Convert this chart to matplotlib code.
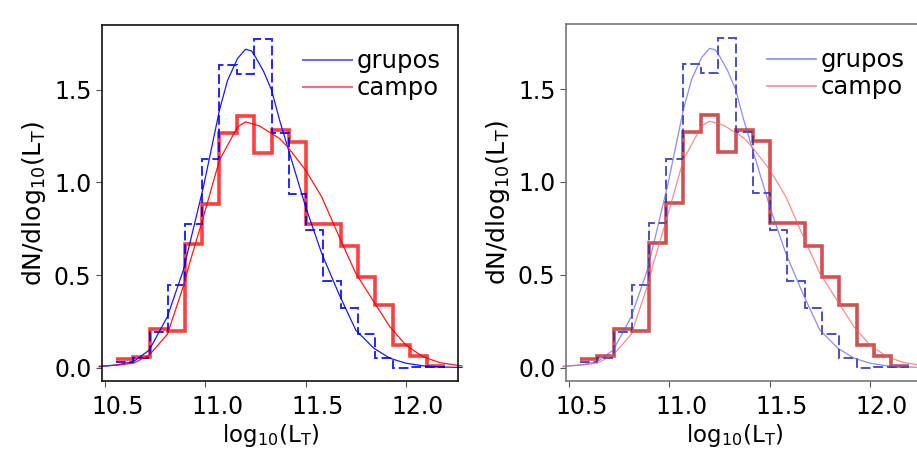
import numpy as np
import matplotlib.pyplot as plt
import matplotlib.transforms as mtransforms

# bordes de los bines en log10(L_T)
edges = [10.552, 10.638, 10.725, 10.811, 10.898, 10.984, 11.070, 11.157, 11.243, 11.330,
         11.416, 11.502, 11.589, 11.675, 11.762, 11.848, 11.934, 12.021, 12.107, 12.193]

# histogramas normalizados
grupos_hist = [0.03, 0.05, 0.19, 0.446, 0.777, 1.125, 1.632, 1.584, 1.775, 1.269,
               0.940, 0.743, 0.469, 0.32, 0.18, 0.05, 0.0, 0.005, 0.005]
campo_hist = [0.045, 0.06, 0.21, 0.198, 0.67, 0.886, 1.266, 1.359, 1.161, 1.282,
              1.221, 0.778, 0.778, 0.656, 0.489, 0.336, 0.12, 0.061, 0.011]

# curvas de ajuste
grupos_fit_x = [10.47, 10.56, 10.64, 10.72, 10.81, 10.89, 10.99, 11.07, 11.11, 11.16,
                11.20, 11.23, 11.25, 11.29, 11.33, 11.37, 11.41, 11.50, 11.58, 11.665,
                11.75, 11.84, 11.92, 12.00, 12.085, 12.17, 12.28]
grupos_fit_y = [0.005, 0.015, 0.032, 0.095, 0.275, 0.527, 0.976, 1.39, 1.55, 1.669,
                1.719, 1.71, 1.677, 1.60, 1.498, 1.336, 1.192, 0.868, 0.617, 0.40,
                0.203, 0.105, 0.051, 0.024, 0.01, 0.004, 0.001]
campo_fit_x = [10.47, 10.56, 10.64, 10.72, 10.81, 10.89, 10.92, 10.99, 11.07, 11.16,
               11.20, 11.27, 11.37, 11.41, 11.50, 11.58, 11.67, 11.75, 11.84, 11.92,
               12.00, 12.085, 12.17, 12.28]
campo_fit_y = [0.008, 0.014, 0.024, 0.068, 0.18, 0.44, 0.56, 0.815, 1.12, 1.30,
               1.327, 1.305, 1.237, 1.192, 1.066, 0.922, 0.70, 0.509, 0.356, 0.221,
               0.122, 0.059, 0.027, 0.009]

xticks = [10.5, 11.0, 11.5, 12.0]
yticks = [0.0, 0.5, 1.0, 1.5]

fig = plt.figure(figsize=(9.17, 4.51), dpi=100)
# en la figura original las etiquetas del eje x estan corridas a la derecha
shift = mtransforms.ScaledTranslation(12/100, 0, fig.dpi_scale_trans)


def panel(ax, spine_col, c_blue, c_red, h_blue, h_red, fit_alpha):
    ax.stairs(campo_hist, edges, baseline=None, color=h_red, lw=2.6, alpha=0.75)
    ax.stairs(grupos_hist, edges, baseline=None, color=h_blue, lw=1.4,
              linestyle=(0, (5, 2)), alpha=0.85)
    ax.plot(grupos_fit_x, grupos_fit_y, color=c_blue, lw=0.9, alpha=fit_alpha,
            label='grupos', clip_on=False)
    ax.plot(campo_fit_x, campo_fit_y, color=c_red, lw=0.9, alpha=fit_alpha,
            label='campo', clip_on=False)
    ax.set_xlim(10.484, 12.26)
    ax.set_ylim(-0.072, 1.85)
    ax.set_xticks(xticks)
    ax.set_yticks(yticks)
    ax.set_xticklabels([f'{t:.1f}' for t in xticks])
    ax.set_yticklabels([f'{t:.1f}' for t in yticks])
    ax.tick_params(labelsize=17, length=4, color='#555555', top=False, right=False)
    ax.tick_params(axis='x', pad=6)
    for lab in ax.get_xticklabels():
        lab.set_transform(lab.get_transform() + shift)
    for s in ax.spines.values():
        s.set_color(spine_col)
        s.set_linewidth(1.2)
    ax.set_xlabel(r'$\mathregular{log_{10}(L_T)}$', fontsize=16.5)
    ax.xaxis.set_label_coords(0.475, -0.115)
    ax.set_ylabel(r'$\mathregular{dN/dlog_{10}(L_T)}$', fontsize=18, labelpad=4)
    leg = ax.legend(loc='upper right', bbox_to_anchor=(1.02, 1.0), frameon=False,
                    fontsize=17.5, handlelength=2.0, handletextpad=0.2,
                    labelspacing=0.12, borderaxespad=0.6)
    for h in leg.get_lines():
        h.set_alpha(0.6)
        h.set_linewidth(1.4)


ax1 = fig.add_axes([102/917, 70/451, 356/917, 356/451])
panel(ax1, '#111111', 'blue', 'red', 'blue', 'red', 0.9)

ax2 = fig.add_axes([566/917, 70/451, 356/917, 357/451])
panel(ax2, '#777777', '#5c5cf0', '#f06060', '#3030b0', '#c01818', 0.7)

fig.savefig('out.png', dpi=100)
